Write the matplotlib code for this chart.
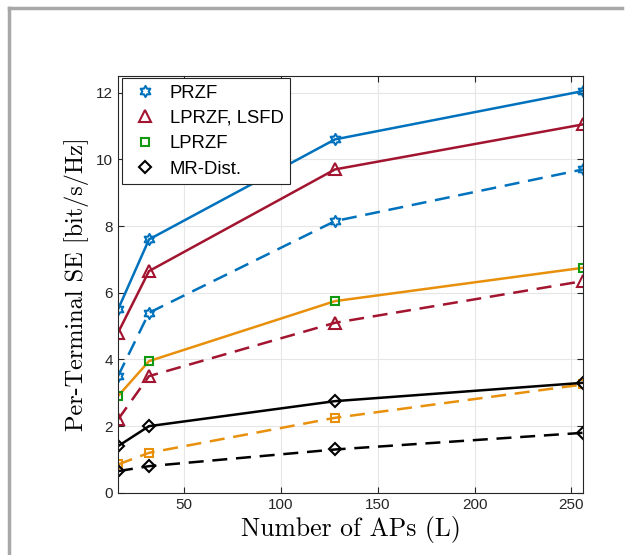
import numpy as np
import matplotlib.pyplot as plt
from matplotlib.lines import Line2D
from matplotlib.path import Path

# данные
L = [16, 32, 128, 256]
przf = [5.5, 7.6, 10.6, 12.05]
przf_d = [3.5, 5.4, 8.15, 9.7]
lsfd = [4.8, 6.65, 9.7, 11.05]
lsfd_d = [2.2, 3.5, 5.1, 6.35]
lprzf = [2.9, 3.95, 5.75, 6.75]
lprzf_d = [0.85, 1.2, 2.25, 3.25]
mr = [1.4, 2.0, 2.75, 3.3]
mr_d = [0.65, 0.8, 1.3, 1.8]

blue = '#0072BD'
red = '#A2142F'
orange = '#E8900C'
green = '#119A11'

# шестиконечная звезда (hexagram)
ang = np.pi / 2 + np.arange(12) * np.pi / 6
rad = np.where(np.arange(12) % 2 == 0, 1.0, 1 / np.sqrt(3))
verts = np.column_stack([rad * np.cos(ang), rad * np.sin(ang)])
verts = np.vstack([verts, verts[0]])
hexa = Path(verts, [Path.MOVETO] + [Path.LINETO] * 11 + [Path.CLOSEPOLY])

fig = plt.figure(figsize=(6.31, 5.55), dpi=100)
ax = fig.add_axes([0.187, 0.112, 0.737, 0.751])

ms = 7
lw = 1.8
dsh = (6, 3.5)
ax.plot(L, przf, '-', color=blue, lw=lw, marker=hexa, ms=ms + 1, mfc='none', mec=blue, mew=1.5)
ax.plot(L, przf_d, '--', dashes=dsh, color=blue, lw=lw, marker=hexa, ms=ms + 1, mfc='none', mec=blue, mew=1.5)
ax.plot(L, lsfd, '-', color=red, lw=lw, marker='^', ms=ms + 1, mfc='none', mec=red, mew=1.5)
ax.plot(L, lsfd_d, '--', dashes=dsh, color=red, lw=lw, marker='^', ms=ms + 1, mfc='none', mec=red, mew=1.5)
ax.plot(L, lprzf, '-', color=orange, lw=lw, marker='s', ms=ms - 1, mfc='none', mec=green, mew=1.5)
ax.plot(L, lprzf_d, '--', dashes=dsh, color=orange, lw=lw, marker='s', ms=ms - 1, mfc='none', mec=orange, mew=1.5)
ax.plot(L, mr, '-', color='black', lw=lw, marker='D', ms=ms - 1, mfc='none', mec='black', mew=1.5)
ax.plot(L, mr_d, '--', dashes=dsh, color='black', lw=lw, marker='D', ms=ms - 1, mfc='none', mec='black', mew=1.5)

ax.set_xlim(16, 256)
ax.set_ylim(0, 12.5)
ax.set_xticks([50, 100, 150, 200, 250])
ax.set_yticks([0, 2, 4, 6, 8, 10, 12])
ax.grid(True, color='#e6e6e6', lw=0.8)
ax.set_axisbelow(True)
ax.tick_params(direction='in', top=True, right=True, labelsize=11, colors='#262626', length=4)
for s in ax.spines.values():
    s.set_color('#262626')
    s.set_linewidth(0.8)
for t in ax.get_xticklabels() + ax.get_yticklabels():
    t.set_family('Liberation Sans')

ax.set_xlabel('Number of APs (L)', family='cmr10', fontsize=18.5, labelpad=3)
ax.set_ylabel('Per-Terminal SE [bit/s/Hz]', family='cmr10', fontsize=17.5, labelpad=5)

handles = [
    Line2D([], [], ls='none', marker=hexa, ms=ms + 1, mfc='none', mec=blue, mew=1.5),
    Line2D([], [], ls='none', marker='^', ms=ms + 1, mfc='none', mec=red, mew=1.5),
    Line2D([], [], ls='none', marker='s', ms=ms - 1, mfc='none', mec=green, mew=1.5),
    Line2D([], [], ls='none', marker='D', ms=ms - 1, mfc='none', mec='black', mew=1.5),
]
leg = ax.legend(handles, ['PRZF', 'LPRZF, LSFD', 'LPRZF', 'MR-Dist.'], loc='upper left',
                bbox_to_anchor=(0.008, 0.995), prop={'family': 'Liberation Sans', 'size': 13.3},
                fancybox=False, framealpha=1, edgecolor='#262626', borderpad=0.35,
                labelspacing=0.45, handletextpad=0.45, handlelength=1.8, borderaxespad=0)
leg.get_frame().set_linewidth(0.8)

# серая рамка вокруг рисунка
fig.add_artist(Line2D([0.015, 0.015], [0, 0.986], color='#a8a8a8', lw=2.5))
fig.add_artist(Line2D([0.015, 0.986], [0.986, 0.986], color='#a8a8a8', lw=2.5))

fig.savefig('out.png', dpi=100)
